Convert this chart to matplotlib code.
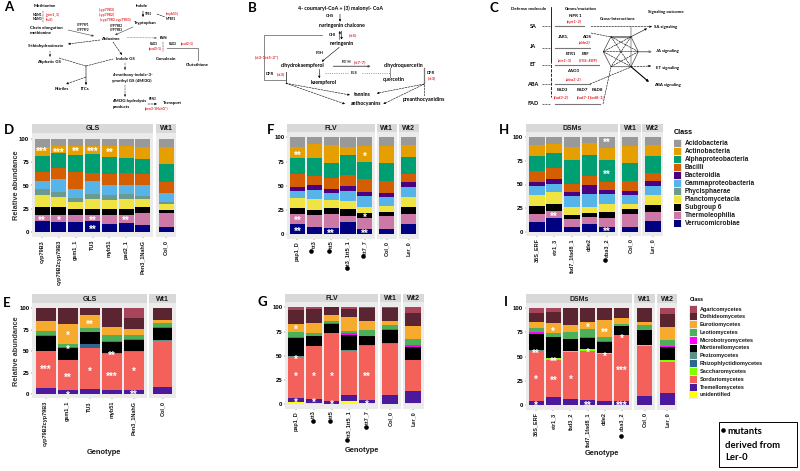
import matplotlib
matplotlib.use('Agg')
import matplotlib.pyplot as plt
from matplotlib.patches import Rectangle
import numpy as np

W, H = 800, 471
plt.rcParams['font.family'] = ['Liberation Sans', 'DejaVu Sans']

# bottom to top stacking order
bac_names = ['Verrucomicrobiae', 'Thermoleophilia', 'Subgroup 6', 'Planctomycetacia', 'Phycisphaerae',
             'Gammaproteobacteria', 'Bacteroidia', 'Bacilli', 'Alphaproteobacteria', 'Actinobacteria', 'Acidobacteria']
bac_colors = ['#000080', '#CC79A7', '#000000', '#F0E442', '#6B9A8E',
              '#56B4E9', '#4B0082', '#D55E00', '#009E73', '#E69F00', '#999999']
fun_names = ['unidentified', 'Tremellomycetes', 'Sordariomycetes', 'Saccharomycetes', 'Rhizophlyctidiomycetes',
             'Pezizomycetes', 'Mortierellomycetes', 'Microbotryomycetes', 'Leotiomycetes', 'Eurotiomycetes',
             'Dothideomycetes', 'Agaricomycetes']
fun_colors = ['#FFFF00', '#4B1A9C', '#F4615A', '#7FFF00', '#2F6690',
              '#5F9088', '#000000', '#FF00FF', '#4DAF57', '#F7AB2E', '#5A2430', '#A8455A']

geno_d = ['cyp79B3', 'cyp79B2cyp79B3', 'gsm1_1', 'TU3', 'myb51', 'pad2_1', 'Pen3_1NahG']
vals_d = [[11.5, 7, 8, 13.5, 6, 9, 0, 10, 17, 9.5, 8],
          [10.5, 8, 8, 11, 6, 13.5, 0, 12, 16, 7.5, 7.5],
          [11, 7.5, 6.5, 7.5, 4, 9.5, 0, 19, 18, 9.5, 7.5],
          [11.5, 7, 6.5, 10.5, 5.5, 14, 0, 8, 21, 8.5, 7.5],
          [9, 9.5, 6.5, 9.5, 5.5, 10.5, 0, 11.5, 18.5, 11.5, 8],
          [10, 8.5, 6, 10.5, 6, 9.5, 0, 12.5, 17, 12.5, 7.5],
          [8, 12.5, 6.5, 8.5, 3.5, 11.5, 0, 11.5, 17, 12, 9]]
col_d = [[5.5, 14.5, 4, 6, 2.5, 9.5, 0, 12, 19, 18, 9]]
stars_d = [(0, 89, '***'), (0, 15, '**'), (1, 88.5, '***'), (1, 15, '*'), (2, 89, '**'),
           (3, 89, '***'), (3, 15.5, '**'), (3, 5.5, '**'), (4, 88, '**'), (5, 15, '**')]

geno_f = ['pap1_D', 'tt3', 'tt5', 'tt3_1tt5_1', 'tt7_7']
vals_f = [[10.5, 10, 6.5, 10, 0, 8, 4, 13, 17, 10.5, 10.5],
          [8, 12, 5.5, 10.5, 0, 10, 4.5, 10, 18.5, 14, 7],
          [6, 15, 6, 8, 0, 8, 3.7, 11.3, 15, 19, 8],
          [12.7, 6.3, 7, 8, 0, 11, 5, 11, 20.5, 8.2, 10.3],
          [5, 12, 5, 6, 0, 12, 3.5, 14, 17.5, 16.5, 8.5]]
col_f = [[5, 14, 4.5, 6, 0, 9, 4, 12, 18.5, 18.5, 8.5]]
ler_f = [[10.7, 10.3, 7, 10.5, 0, 10, 5, 9, 17.5, 11.7, 8.3]]
stars_f = [(0, 84, '**'), (0, 16.5, '**'), (0, 6, '**'), (2, 3.4, '**'),
           (4, 83, '*'), (4, 20, '*'), (4, 3.4, '**')]

geno_h = ['35S_ERF', 'etr1_3', 'fad7_1fad8_1', 'dde2', 'aba3_2']
vals_h = [[10, 8.7, 8.3, 11.5, 0, 10, 3.8, 11.7, 16.5, 11, 8.5],
          [14.5, 7, 8.2, 12, 0, 9.3, 4.8, 11.2, 16.7, 8.9, 7.4],
          [4.6, 8.4, 4.7, 8.1, 0, 11.7, 4.9, 8.6, 25.3, 13.4, 10.3],
          [8, 7.5, 4.5, 6.5, 0, 13.5, 9.5, 10, 21.8, 12.3, 6.4],
          [4.6, 10.4, 6, 8.3, 0, 10.7, 4, 8.6, 23.7, 12.7, 11]]
col_h = [[5.3, 13.7, 4.7, 5.6, 0, 9.7, 4, 11, 18.8, 18.2, 9]]
ler_h = [[11, 9.8, 7.5, 10.2, 0, 10.3, 4.9, 8.1, 18.4, 11.3, 8.5]]
stars_h = [(1, 18.4, '**'), (4, 96.8, '**'), (4, 63.6, '**'), (4, 2.8, '**')]

geno_e = ['cyp79B2cyp79B3', 'gsm1_1', 'TU3', 'myb51', 'Pen3_1NahG']
vals_e = [[0, 7, 43, 0, 0, 0.5, 17.5, 0.7, 5, 11.3, 15, 0],
          [0, 5, 35, 0, 0, 0.3, 13.4, 1.3, 3, 24, 18, 0],
          [0, 6, 48, 0, 4, 0, 14, 0.3, 4.7, 15, 8, 0],
          [0, 5, 41.7, 0, 0, 1.3, 12.6, 1.2, 6.9, 9.7, 21.6, 0],
          [0, 5, 44, 0, 0, 1, 13, 1.5, 4.2, 7, 12.3, 12]]
col_e = [[0, 8.5, 52.9, 0, 0, 1.6, 14.2, 1.2, 4.2, 3.4, 14, 0]]
stars_e = [(0, 31, '***'), (1, 70.6, '*'), (1, 55, '*'), (1, 21.6, '**'), (1, 1, '*'), (2, 84, '**'),
           (2, 29, '*'), (3, 47.5, '**'), (3, 23.5, '***'), (4, 29, '*'), (4, 2, '**')]

geno_g = ['pap1_D', 'tt3', 'tt5', 'tt3_1tt5_1', 'tt7_7']
vals_g = [[2.5, 4.5, 42, 0, 0, 0.3, 19.1, 1.4, 4.8, 7.9, 14.5, 3],
          [1.3, 4.2, 54.5, 0, 0, 0.3, 10.2, 0, 3.5, 10, 14, 2],
          [0.3, 3.1, 70.1, 0, 0, 0.2, 9.3, 1, 2, 6, 8, 0],
          [3.4, 5.9, 46.1, 0, 0, 0.3, 15.5, 2.5, 1.6, 14.4, 8.6, 1.6],
          [1, 3.5, 56, 0, 0, 0.3, 9.2, 0, 7, 9, 13, 1]]
col_g = [[0.3, 9.3, 52.9, 0, 0, 1.1, 13.4, 1, 4, 4, 13, 1]]
ler_g = [[1.4, 12.3, 32, 0, 0, 0.3, 13.5, 1.2, 6.4, 13.6, 13.5, 6.3]]
stars_g = [(0, 79.4, '*'), (0, 49, '*'), (0, 31, '*'), (0, 5, '*'), (1, 31, '*'), (1, 4.5, '*'),
           (2, 31, '*'), (2, 2.7, '*'), (4, 31, '**'), (4, 2.7, '*')]

geno_i = ['35S_ERF', 'etr1_3', 'fad3_2', 'fad7_1fad8_1', 'dde2', 'aba3_2']
vals_i = [[0, 4.5, 51.7, 0, 0, 0.3, 16.5, 2.5, 4.5, 6, 9, 5],
          [0, 8.6, 38.4, 2, 0, 0, 21, 0.7, 3.3, 10.8, 11.2, 4],
          [0, 6.5, 48.5, 0.5, 0, 0, 12.8, 0, 7.2, 7.5, 17, 0],
          [0, 4.8, 51.4, 1.4, 0, 0, 12.1, 0.6, 8.3, 7.3, 14.1, 0],
          [0, 4, 49, 1, 0, 0, 11.5, 0.5, 4, 17.6, 12.4, 0],
          [0, 4.5, 67.5, 0, 0, 0.3, 9.1, 0.6, 1.8, 6.2, 10, 0]]
col_i = [[0, 9, 52, 1.4, 0, 0, 15.2, 0.4, 4.4, 3.8, 13.8, 0]]
ler_i = [[0, 12.4, 32.4, 1.4, 0, 0, 13.8, 1, 6.2, 13.5, 13.3, 6]]
stars_i = [(0, 56, '**'), (0, 29, '*'), (0, 2.7, '*'), (1, 79, '*'), (1, 48, '**'), (1, 28, '**'),
           (2, 29.6, '*'), (3, 82.8, '*'), (3, 57, '*'), (3, 2.4, '**'), (4, 78, '**'), (4, 53, '*'),
           (5, 71.4, '*'), (5, 38.6, '***'), (5, 2.7, '***')]

fig = plt.figure(figsize=(W / 100, H / 100), dpi=100)


def px_axes(x0, y0, x1, y1):
    return fig.add_axes([x0 / W, 1 - y1 / H, (x1 - x0) / W, (y1 - y0) / H])


def facet(label, x0, x1, top, strip, bottom, y0, y100, geno, vals, colors, first=False, stars=()):
    px_unit = (y0 - y100) / 100
    strip_ax = px_axes(x0, top, x1, strip)
    strip_ax.set_facecolor('#D9D9D9')
    strip_ax.set_xticks([])
    strip_ax.set_yticks([])
    for s in strip_ax.spines.values():
        s.set_visible(False)
    strip_ax.text(0.5, 0.45, label, transform=strip_ax.transAxes, ha='center', va='center',
                  fontsize=5, fontweight='bold', color='#1a1a1a')
    ax = px_axes(x0, strip, x1, bottom)
    ax.set_facecolor('#EBEBEB')
    vals = np.array(vals)
    bottoms = np.zeros(len(vals))
    xs = np.arange(len(vals))
    for k in range(vals.shape[1]):
        ax.bar(xs, vals[:, k], 0.9, bottom=bottoms, color=colors[k], linewidth=0)
        bottoms = bottoms + vals[:, k]
    ax.set_xlim(-0.6, len(vals) - 0.4)
    ax.set_ylim((y0 - bottom) / px_unit, (y0 - strip) / px_unit)
    ax.set_xticks(xs)
    ax.set_xticklabels(geno, rotation=90, fontsize=4, fontweight='bold', color='#1a1a1a')
    ax.tick_params(axis='x', length=1, width=0.3, pad=1, color='#333333')
    if first:
        ax.set_yticks([0, 25, 50, 75, 100])
        ax.tick_params(axis='y', length=1, width=0.3, pad=1, labelsize=4.3, color='#333333')
        for t in ax.get_yticklabels():
            t.set_fontweight('bold')
    else:
        ax.set_yticks([])
    for s in ax.spines.values():
        s.set_visible(False)
    for i, y, st in stars:
        # the asterisk glyph sits high in its box, so pull it down to the reading
        ax.text(i, y - 3.1, st, color='white', fontsize=7, ha='center', va='center', fontweight='bold')
    return ax


# bacterial row
facet('GLS', 32, 153, 124, 133, 237, 232, 139, geno_d, vals_d, bac_colors, True, stars_d)
facet('Wt1', 156, 176, 124, 133, 237, 232, 139, ['Col_0'], col_d, bac_colors)
facet('FLV', 287.3, 375, 124, 132.3, 238.7, 234.3, 137.3, geno_f, vals_f, bac_colors, True, stars_f)
facet('Wt1', 376.7, 397, 124, 132.3, 238.7, 234.3, 137.3, ['Col_0'], col_f, bac_colors)
facet('Wt2', 398.7, 418.7, 124, 132.3, 238.7, 234.3, 137.3, ['Ler_0'], ler_f, bac_colors)
facet('DSMs', 526, 617.7, 124, 132.3, 235.7, 231.7, 137.3, geno_h, vals_h, bac_colors, True, stars_h)
facet('Wt1', 619.7, 640.7, 124, 132.3, 235.7, 231.7, 137.3, ['Col_0'], col_h, bac_colors)
facet('Wt2', 642.3, 663.3, 124, 132.3, 235.7, 231.7, 137.3, ['Ler_0'], ler_h, bac_colors)

# fungal row
facet('GLS', 32.3, 147.3, 294, 303.3, 398.3, 394.3, 308, geno_e, vals_e, fun_colors, True, stars_e)
facet('Wt1', 149.3, 175.7, 294, 303.3, 398.3, 394.3, 308, ['Col_0'], col_e, fun_colors)
facet('FLV', 285.3, 377.7, 294, 302.3, 408.7, 404.3, 307.3, geno_g, vals_g, fun_colors, True, stars_g)
facet('Wt1', 379.7, 400.7, 294, 302.3, 408.7, 404.3, 307.3, ['Col_0'], col_g, fun_colors)
facet('Wt2', 402.7, 423.7, 294, 302.3, 408.7, 404.3, 307.3, ['Ler_0'], ler_g, fun_colors)
facet('DSMs', 526, 632, 294, 303.3, 409.7, 405, 308.3, geno_i, vals_i, fun_colors, True, stars_i)
facet('Wt1', 634.3, 654.7, 294, 303.3, 409.7, 405, 308.3, ['Col_0'], col_i, fun_colors)
facet('Wt2', 657, 677.3, 294, 303.3, 409.7, 405, 308.3, ['Ler_0'], ler_i, fun_colors)

# everything else sits on a full figure axes in pixel coordinates
over = fig.add_axes([0, 0, 1, 1], zorder=10)
over.set_xlim(0, W)
over.set_ylim(H, 0)
over.axis('off')


def txt(x, y, s, size=3.2, color='black', style='normal', weight='bold', family='Lato', ha='center', rot=0):
    over.text(x, y, s, fontsize=size, color=color, style=style, fontweight=weight, family=[family, 'DejaVu Sans'],
              ha=ha, va='center', rotation=rot)


def arrow(p, q, ls='-', color='black', lw=0.4, head=True):
    over.annotate('', xy=q, xytext=p, arrowprops=dict(arrowstyle='-|>' if head else '-', lw=lw, ls=ls, color=color,
                                                      mutation_scale=3, shrinkA=0, shrinkB=0))


for x, y, s in [(4, 7, 'A'), (248, 8.5, 'B'), (489, 8.5, 'C'), (4, 130.5, 'D'), (3, 303, 'E'), (267, 130.5, 'F'),
                (258, 302, 'G'), (499, 130.5, 'H'), (504, 302.5, 'I')]:
    txt(x, y, s, size=9.5, ha='left')

for y in [185, 351]:
    txt(17, y, 'Relative abundance', size=5.3, family='Liberation Sans', rot=90, color='#333333')
for x, y in [(104, 453), (362.3, 451), (601.7, 453.3)]:
    txt(x, y, 'Genotype', size=5.4, family='Liberation Sans', color='#1a1a1a')

# dots marking Ler-0 mutants
dot_x = [311.3, 329, 346.7, 363.3, 604.7, 313, 330, 346.7, 366.3, 621.3, 723.3]
dot_y = [250.7, 251.3, 268.3, 256, 260.3, 420.7, 420.7, 439.7, 427, 436.3, 430.3]
over.scatter(dot_x, dot_y, s=11, color='black', linewidth=0, zorder=5)

# legends
for names, colors, ty, step, x_key, x_text, title_size, title_y, name_size in [
        (bac_names, bac_colors, 143.3, 8.0, 674, 685, 5.2, 133, 4.7),
        (fun_names, fun_colors, 309, 7.8, 689.3, 700, 3.8, 299.7, 4.0)]:
    txt(x_key, title_y, 'Class', size=title_size, family='Liberation Sans', ha='left')
    for i, (name, c) in enumerate(zip(reversed(names), reversed(colors))):
        yy = ty + step * i
        over.add_patch(Rectangle((x_key, yy - step / 2), 7.7, step, facecolor='#EBEBEB', linewidth=0))
        over.add_patch(Rectangle((x_key + 0.4, yy - step / 2 + 0.4), 6.9, step - 0.8, facecolor=c, linewidth=0))
        txt(x_text, yy, name, size=name_size, family='Liberation Sans', ha='left', color='#1a1a1a')

over.add_patch(Rectangle((718.7, 421.7), 78, 45.3, facecolor='white', edgecolor='black', linewidth=0.7))
for y, s, x in [(432, 'mutants', 727), (445, 'derived from', 725), (457.5, 'Ler-0', 725)]:
    txt(x, y, s, size=6.8, ha='left')

RED = '#E8262A'
# panel A
for x, y, s in [(45, 6, 'Methionine'), (46, 28, 'Chain elongation'), (41, 33, 'methionine'), (142, 6, 'Indole'),
                (145, 23, 'Tryptophan'), (110, 38.7, 'Aldoxime'), (163, 37.7, 'IAN'), (46, 46, '5-thiohydroximate'),
                (49, 62, 'Aliphatic GS'), (125, 59, 'Indole GS'), (166, 58.7, 'Camalexin'), (197, 64.7, 'Glutathione'),
                (132, 75, '4-methoxy-indole-3-'), (132, 81, 'ymethyl GS (4MI3G)'), (62, 89, 'Nitriles'), (85, 89, 'ITCs'),
                (129, 101, '4MI3G hydrolysis'), (121, 106.7, 'products'), (172, 103, 'Transport')]:
    txt(x, y, s)
for x, y, s in [(38, 14.7, 'MAM1'), (38, 19, 'MAM3'), (83, 25, 'CYP79F1'), (83, 30, 'CYP79F2'), (116, 25.7, 'CYP79B2'),
                (116, 30, 'CYP79B3'), (149, 14, 'TSB1'), (171, 19, 'MYB51'), (154, 44, 'PAD3'), (173, 44, 'PAD2'),
                (153, 99, 'PEN3')]:
    txt(x, y, s, size=2.2)
for x, y, s in [(53, 14.7, '(gsm1_1)'), (50, 19, '(tu3)'), (107, 10, '(cyp79B3)'), (107, 15, '(cyp79B2)'),
                (115, 20, '(cyp79B2 cyp79B3)'), (172, 14, '(myb51)'), (155, 49, '(pad3-1)'), (187, 44, '(pad2-1)'),
                (157, 108.7, '(pen3-1NahG*)')]:
    txt(x, y, s, size=2.5, color=RED)
arrow((43, 11), (43, 22), ls=':', head=False)
arrow((68, 30), (94, 36), color='#444444')
arrow((133, 27), (115, 35), color='#444444')
arrow((127, 37.5), (157, 38), ls=':', color='#555555')
arrow((100, 40), (68, 44), ls='--')
arrow((50, 51), (50, 57), ls=':')
arrow((113, 42), (122, 55), ls='--')
arrow((125, 63), (125, 70), ls=':')
arrow((125, 85), (125, 97), ls=':')
arrow((143, 11), (143, 17))
arrow((157, 14), (165, 17), ls='--', head=False)
arrow((163, 42), (163, 52), ls=':', head=False)
arrow((59, 58), (86, 66), ls='--', head=False)
arrow((86, 66), (113, 59), ls='--', head=False)
arrow((86, 66), (86, 85))
arrow((86, 77), (66, 84), ls='--')
arrow((148, 104), (157, 104), ls='--')
over.plot([167, 198, 198], [48, 48, 60], color='#888888', lw=0.7)

# panel B
txt(340.7, 8, '4- coumaryl-CoA + (3) malonyl- CoA', size=3.8)
for x, y, s in [(342.3, 25.7, 'naringenin chalcone'), (341.7, 43, 'naringenin'), (302.7, 65.3, 'dihydrokaempferol'),
                (404, 65.7, 'dihydroquercetin'), (323.3, 82.3, 'kaempferol'), (394, 80, 'quercetin'),
                (362.7, 94.7, 'tannins'), (366, 104, 'anthocyanins'), (424.3, 99.7, 'preanthocyanidins')]:
    txt(x, y, s, size=3.7)
for x, y, s in [(329.7, 16, 'CHS'), (332.3, 35, 'CHI'), (320, 53, 'F3H'), (346, 62.3, 'F3`H'), (354.3, 73, 'FLS'),
                (270, 74, 'DFR'), (430.7, 72.7, 'DFR')]:
    txt(x, y, s, size=3)
for x, y, s in [(352.7, 35, '(tt5)'), (266.7, 57.3, '(tt3-1tt5-2*)'), (359.7, 62.3, '(tt7-7)'), (280.7, 74, '(tt3)'),
                (431.7, 78, '(tt3)')]:
    txt(x, y, s, size=3.2, color=RED)
arrow((340, 14), (340, 21.7))
arrow((339.8, 39.5), (339.8, 31))
arrow((341.6, 31), (341.6, 39.5))
arrow((339.3, 47.3), (321.7, 61.7))
arrow((333.3, 66.3), (370.7, 66.3), color='#555555', lw=0.7)
arrow((319.3, 69.3), (319.3, 78.3))
over.plot([321.7, 264.3, 264.3, 285], [35, 35, 80, 80], color='#888888', lw=0.7)
over.plot([286, 286], [71.7, 83], color='#555555', lw=0.7)
over.plot([325, 349.3], [73.3, 73.3], color='#777777', lw=0.6, ls=':')
over.plot([362, 390], [73.3, 73.3], color='#777777', lw=0.6, ls=':')
over.plot([390, 390], [68.3, 77.3], color='#777777', lw=0.6)
over.plot([424.3, 424.3], [68.3, 83.3], color='#777777', lw=0.9)
arrow((424.3, 85), (424.3, 96.7), ls='--', head=False)
arrow((286, 83.3), (350, 95), ls='--')
arrow((286, 83.3), (345, 104), ls='--')
arrow((424.3, 84), (376.7, 93.3), ls='--')
arrow((424.3, 84), (383.3, 104), ls='--')

# panel C
for x, y, s in [(528.3, 9.3, 'Defense molecule'), (581, 9, 'Genes/mutation'), (666, 12.3, 'Signaling outcome'),
                (617.7, 19, 'Cross-Interactions'), (575, 16, 'NPR 1'), (563.3, 36.7, 'JAR1,'), (586.7, 36.7, 'AOS'),
                (571, 53.7, 'ETR1'), (585.3, 53.7, 'ERF'), (573.3, 71.3, 'AAO3'), (562.3, 90.3, 'FAD3'),
                (582, 90.3, 'FAD7'), (597.3, 90.3, 'FAD8'), (665.7, 27, 'SA signaling'), (667.3, 51.3, 'JA signaling'),
                (667.3, 67.7, 'ET signaling'), (667.3, 85, 'ABA signaling')]:
    txt(x, y, s, size=3.2)
for x, y, s in [(533.3, 26, 'SA'), (532.7, 46, 'JA'), (532.7, 64.3, 'ET'), (532.3, 84, 'ABA'), (533.3, 103.7, 'FAD')]:
    txt(x, y, s, size=4)
for x, y, s in [(574.3, 21.7, '(npr1-2)'), (585, 42.7, '(dde2)'), (565.3, 60.3, '(etr1-3)'), (588.7, 60.3, '(35S::ERF)'),
                (574, 79, '(aba3-2)'), (561.7, 97, '(fad3-2)'), (590.7, 97, '(fad7-1fad8-1)')]:
    txt(x, y, s, size=3.2, color=RED, style='italic')
over.plot([551, 551], [6.7, 60], color='black', lw=0.6)
over.plot([551, 551], [60, 97], color='black', lw=0.6, ls='--')
hex_x = [611, 631, 638.3, 631, 611, 603.3, 611]
hex_y = [36.7, 36.7, 51.7, 66.7, 66.7, 51.7, 36.7]
over.plot(hex_x, hex_y, color='#444444', lw=0.5)
over.plot([611, 631], [36.7, 36.7], color='#888888', lw=0.9)
for i in range(3):
    arrow((hex_x[i], hex_y[i]), (hex_x[i + 3], hex_y[i + 3]), ls='--', head=False)
arrow((603.3, 51.7), (631, 36.7), ls='--', head=False)
arrow((603.3, 51.7), (631, 66.7), ls='--', head=False)
arrow((611, 36.7), (638.3, 51.7), ls='--', head=False)
arrow((611, 66.7), (638.3, 51.7), ls='--', head=False)
for x0, x1, y in [(555, 584, 26), (555, 570, 47.5), (570, 590, 47.5), (555, 599, 64.5), (555, 590, 84), (555, 600, 104)]:
    over.plot([x0, x1], [y, y], color='#777777', lw=0.8)
for y in [26, 47.5, 64.5, 84, 104]:
    over.plot([542, 550], [y, y], color='black', lw=0.4, ls='--')
arrow((591, 26.7), (652, 26.7), ls='--')
arrow((631, 26.7), (631, 66.7), color='#444444', head=False)
arrow((631, 36.7), (647, 28.5), ls='-')
arrow((590, 84), (631, 67), ls='--', head=False)
arrow((603, 104), (611, 66.7), ls='--', head=False)
arrow((631, 66.7), (649, 82), lw=0.8)
arrow((638.3, 51.7), (652, 51.7), color='#777777', lw=0.8)
arrow((631, 66.7), (651, 66), ls='--')
arrow((591, 33), (611, 37), ls='--', head=False)

fig.savefig('out.png', dpi=100)
